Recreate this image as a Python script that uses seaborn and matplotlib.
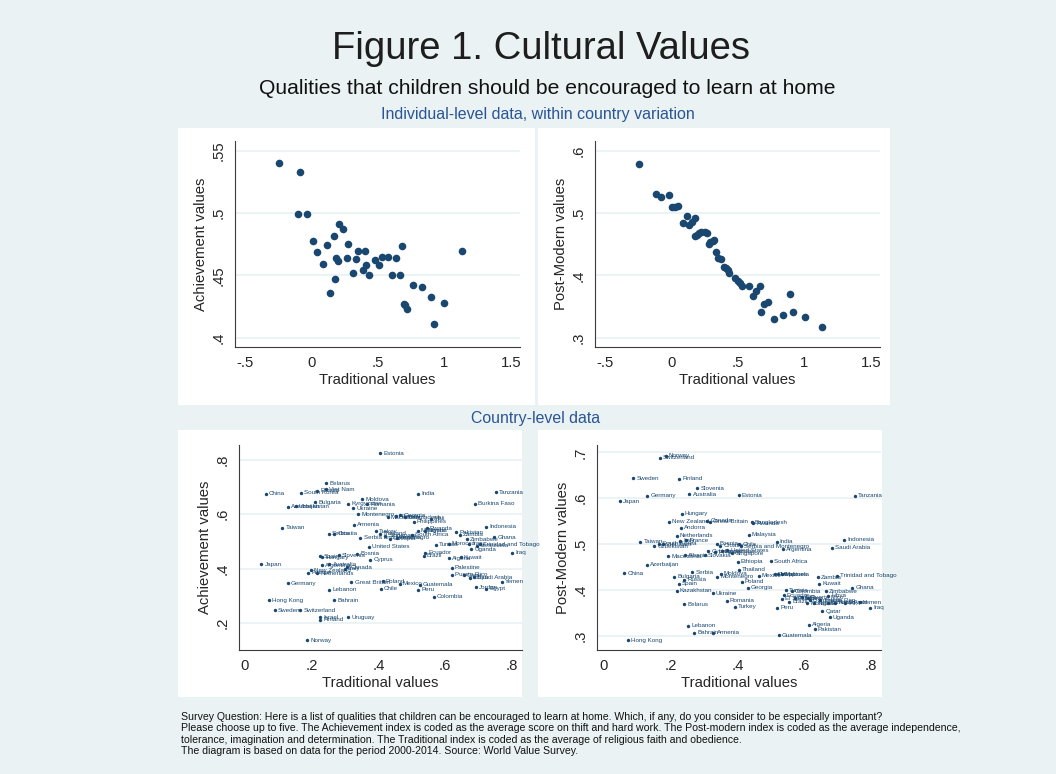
import pandas as pd
import seaborn as sns
import matplotlib.pyplot as plt
from matplotlib.patches import Rectangle

# ---- individual-level data (binned, within country variation) ----
tl_x = [-0.243, -0.083, -0.103, -0.033, 0.010, 0.045, 0.085, 0.115, 0.138, 0.168,
        0.178, 0.185, 0.198, 0.205, 0.238, 0.265, 0.278, 0.313, 0.335, 0.353,
        0.390, 0.403, 0.413, 0.435, 0.475, 0.508, 0.533, 0.575, 0.610, 0.638,
        0.668, 0.680, 0.695, 0.708, 0.723, 0.763, 0.835, 0.898, 0.923, 1.000, 1.133]
tl_y = [0.5398, 0.5331, 0.4992, 0.4992, 0.4773, 0.4687, 0.4591, 0.4743, 0.4361, 0.4816,
        0.4471, 0.4636, 0.4615, 0.4909, 0.4874, 0.4642, 0.4749, 0.4521, 0.4631, 0.4698,
        0.4540, 0.4698, 0.4583, 0.4505, 0.4623, 0.4580, 0.4644, 0.4644, 0.4505, 0.4642,
        0.4500, 0.4733, 0.4273, 0.4259, 0.4233, 0.4422, 0.4406, 0.4324, 0.4112, 0.4275, 0.4698]

tr_x = [-0.243, -0.115, -0.078, -0.018, 0.008, 0.030, 0.050, 0.085, 0.115, 0.135,
        0.158, 0.180, 0.175, 0.193, 0.208, 0.226, 0.251, 0.271, 0.281, 0.291,
        0.311, 0.321, 0.333, 0.353, 0.373, 0.398, 0.414, 0.426, 0.434, 0.479,
        0.499, 0.516, 0.534, 0.581, 0.617, 0.634, 0.669, 0.677, 0.697, 0.727,
        0.772, 0.840, 0.892, 0.917, 1.005, 1.133]
tr_y = [0.5786, 0.5305, 0.5262, 0.5289, 0.5102, 0.5102, 0.5112, 0.4845, 0.4952, 0.4807,
        0.4861, 0.4914, 0.4626, 0.4647, 0.4674, 0.4701, 0.4690, 0.4684, 0.4497, 0.4529,
        0.4551, 0.4567, 0.4369, 0.4273, 0.4257, 0.4139, 0.4112, 0.4086, 0.4043, 0.3952,
        0.3909, 0.3872, 0.3834, 0.3829, 0.3668, 0.3749, 0.3834, 0.3412, 0.3540, 0.3567,
        0.3300, 0.3358, 0.3695, 0.3412, 0.3326, 0.3166]

# ---- country-level data: achievement ----
bl_names = ["Estonia", "Belarus", "China", "South Korea", "Viet Nam", "Russia", "Bulgaria",
            "Azerbaijan", "Uzbekistan", "Kyrgyzstan", "Moldova", "Romania", "Ukraine",
            "Montenegro", "Armenia", "Taiwan", "Serbia", "Croatia", "Serbia and Montenegro",
            "United States", "Cyprus", "Slovenia", "Bosnia", "Spain", "Hungary", "Japan",
            "Australia", "Argentina", "Canada", "Italy", "New Zealand", "Netherlands", "France",
            "Germany", "Great Britain", "Poland", "Chile", "Mexico", "Guatemala", "Peru",
            "Colombia", "Lebanon", "Bahrain", "Hong Kong", "Sweden", "Switzerland", "Israel",
            "Finland", "Uruguay", "Norway", "Palestine", "Puerto Rico", "Qatar", "Libya",
            "Saudi Arabia", "Jordan", "Yemen", "Egypt", "Iraq", "Kuwait", "Algeria", "Brazil",
            "Ecuador", "India", "Tanzania", "Burkina Faso", "Mali", "Macedonia", "Albania",
            "Georgia", "Bangladesh", "Philippines", "Indonesia", "Rwanda", "Nigeria",
            "Malaysia", "Pakistan", "Zambia", "South Africa", "Zimbabwe", "Ghana", "Turkey",
            "Thailand", "Singapore", "Ethiopia", "Andorra", "Tunisia", "Morocco",
            "Trinidad and Tobago", "Iran", "Venezuela", "Uganda"]
bl_x = [0.405, 0.243, 0.062, 0.167, 0.243, 0.217, 0.210, 0.128, 0.152, 0.310, 0.351, 0.367,
        0.325, 0.340, 0.327, 0.112, 0.251, 0.268, 0.346, 0.371, 0.375, 0.281, 0.337, 0.226,
        0.231, 0.049, 0.253, 0.231, 0.307, 0.300, 0.198, 0.217, 0.190, 0.128, 0.319, 0.412,
        0.406, 0.463, 0.523, 0.519, 0.565, 0.253, 0.268, 0.073, 0.089, 0.166, 0.226, 0.226,
        0.309, 0.187, 0.620, 0.620, 0.655, 0.675, 0.685, 0.692, 0.771, 0.722, 0.800, 0.646,
        0.612, 0.535, 0.540, 0.519, 0.752, 0.690, 0.556, 0.428, 0.451, 0.465, 0.480, 0.505,
        0.722, 0.545, 0.538, 0.518, 0.633, 0.643, 0.500, 0.665, 0.747, 0.392, 0.405, 0.420,
        0.435, 0.455, 0.572, 0.610, 0.705, 0.672, 0.695, 0.678]
bl_y = [0.825, 0.714, 0.676, 0.680, 0.693, 0.686, 0.644, 0.628, 0.630, 0.638, 0.656, 0.637,
        0.623, 0.601, 0.561, 0.550, 0.528, 0.529, 0.513, 0.481, 0.433, 0.450, 0.454, 0.446,
        0.442, 0.417, 0.417, 0.413, 0.405, 0.399, 0.395, 0.383, 0.385, 0.347, 0.350, 0.354,
        0.326, 0.345, 0.341, 0.322, 0.296, 0.322, 0.284, 0.284, 0.247, 0.247, 0.222, 0.212,
        0.222, 0.136, 0.404, 0.378, 0.376, 0.366, 0.368, 0.331, 0.351, 0.326, 0.459, 0.442,
        0.438, 0.448, 0.459, 0.676, 0.681, 0.638, 0.583, 0.589, 0.593, 0.596, 0.589, 0.573,
        0.555, 0.549, 0.540, 0.540, 0.534, 0.524, 0.524, 0.509, 0.516, 0.538, 0.528, 0.522,
        0.510, 0.513, 0.488, 0.491, 0.490, 0.491, 0.485, 0.472]

# ---- country-level data: post-modern ----
br_names = ["Norway", "Switzerland", "Sweden", "Finland", "Slovenia", "Australia", "Germany",
            "Estonia", "Japan", "Hungary", "New Zealand", "Canada", "Great Britain", "Andorra",
            "Netherlands", "France", "Italy", "Taiwan", "South Korea", "Uzbekistan", "Viet Nam",
            "Bangladesh", "Rwanda", "Malaysia", "India", "Argentina", "Indonesia",
            "Saudi Arabia", "Tanzania", "Bosnia", "Croatia", "Chile", "Serbia and Montenegro",
            "United States", "Singapore", "Kyrgyzstan", "Slovakia", "Cyprus", "Uruguay",
            "Albania", "Macedonia", "Ethiopia", "South Africa", "Azerbaijan", "China", "Serbia",
            "Bulgaria", "Russia", "Spain", "Kazakhstan", "Ukraine", "Romania", "Turkey",
            "Belarus", "Lebanon", "Bahrain", "Armenia", "Hong Kong", "Moldova", "Montenegro",
            "Thailand", "Poland", "Georgia", "Mexico", "Philippines", "Venezuela", "Mali",
            "Zambia", "Trinidad and Tobago", "Kuwait", "Ghana", "Zimbabwe", "Colombia",
            "Tunisia", "Ecuador", "Brazil", "El Salvador", "Palestine", "Iran", "Puerto Rico",
            "Dominican Rep.", "Morocco", "Nigeria", "Jordan", "Libya", "Burkina Faso",
            "Kenya", "Egypt", "Yemen", "Iraq", "Qatar", "Uganda", "Algeria", "Pakistan",
            "Guatemala", "Peru"]
br_x = [0.185, 0.168, 0.088, 0.226, 0.280, 0.256, 0.130, 0.404, 0.048, 0.233, 0.196, 0.310,
        0.318, 0.231, 0.218, 0.246, 0.228, 0.109, 0.165, 0.150, 0.178, 0.443, 0.447, 0.434,
        0.517, 0.537, 0.720, 0.683, 0.752, 0.338, 0.348, 0.405, 0.410, 0.370, 0.384, 0.353,
        0.303, 0.313, 0.333, 0.243, 0.193, 0.401, 0.499, 0.128, 0.061, 0.265, 0.210, 0.241,
        0.225, 0.218, 0.326, 0.368, 0.393, 0.240, 0.253, 0.270, 0.328, 0.073, 0.350, 0.340,
        0.405, 0.413, 0.430, 0.464, 0.512, 0.522, 0.532, 0.640, 0.697, 0.645, 0.744, 0.665,
        0.562, 0.544, 0.539, 0.555, 0.532, 0.572, 0.592, 0.612, 0.617, 0.609, 0.630, 0.647,
        0.672, 0.672, 0.692, 0.722, 0.767, 0.797, 0.654, 0.677, 0.613, 0.632, 0.523, 0.519]
br_y = [0.693, 0.688, 0.644, 0.642, 0.622, 0.609, 0.605, 0.607, 0.593, 0.566, 0.549, 0.551,
        0.549, 0.536, 0.518, 0.508, 0.507, 0.505, 0.501, 0.495, 0.500, 0.548, 0.546, 0.521,
        0.505, 0.489, 0.510, 0.492, 0.605, 0.501, 0.497, 0.500, 0.496, 0.487, 0.480, 0.485,
        0.476, 0.485, 0.484, 0.476, 0.474, 0.462, 0.463, 0.455, 0.437, 0.439, 0.429, 0.423,
        0.414, 0.399, 0.393, 0.377, 0.364, 0.369, 0.322, 0.307, 0.307, 0.291, 0.436, 0.429,
        0.444, 0.418, 0.405, 0.431, 0.435, 0.435, 0.435, 0.428, 0.431, 0.414, 0.405, 0.397,
        0.397, 0.400, 0.389, 0.375, 0.381, 0.382, 0.386, 0.383, 0.378, 0.371, 0.371, 0.378,
        0.388, 0.372, 0.372, 0.372, 0.373, 0.362, 0.354, 0.341, 0.324, 0.315, 0.302, 0.361]

trad_ticks = [-0.5, 0, 0.5, 1, 1.5]
trad_labels = ["-.5", "0", ".5", "1", "1.5"]
ach_ticks = [0.4, 0.45, 0.5, 0.55]
ach_labels = [".4", ".45", ".5", ".55"]
pm_ticks = [0.3, 0.4, 0.5, 0.6]
pm_labels = [".3", ".4", ".5", ".6"]
c_ticks = [0, 0.2, 0.4, 0.6, 0.8]
c_labels = ["0", ".2", ".4", ".6", ".8"]
cach_ticks = [0.2, 0.4, 0.6, 0.8]
cach_labels = [".2", ".4", ".6", ".8"]
cpm_ticks = [0.3, 0.4, 0.5, 0.6, 0.7]
cpm_labels = [".3", ".4", ".5", ".6", ".7"]

footer = [
    "Survey Question: Here is a list of qualities that children can be encouraged to learn at home. Which, if any, do you consider to be especially important?",
    "Please choose up to five. The Achievement index is coded as the average score on thift and hard work. The Post-modern index is coded as the average independence,",
    "tolerance, imagination and determination. The Traditional index is coded as the average of religious faith and obedience.",
    "The diagram is based on data for the period 2000-2014. Source: World Value Survey.",
]

NAVY = "#1a476f"
BG = "#eaf2f3"
W, H = 1056, 774

sns.set_style("white")
plt.rcParams["font.family"] = ["Liberation Sans", "DejaVu Sans"]

fig = plt.figure(figsize=(W / 100, H / 100), dpi=100, facecolor=BG)


def rect(l, t, r, b):
    return [l / W, 1 - b / H, (r - l) / W, (b - t) / H]


# white graph regions behind each panel
for l, t, r, b in [(178, 128, 535, 405), (538, 128, 890, 405),
                   (178, 430, 522, 697), (538, 430, 882, 697)]:
    x0, y0, w, h = rect(l, t, r, b)
    fig.patches.append(Rectangle((x0, y0), w, h, transform=fig.transFigure,
                                 facecolor="white", edgecolor="none", zorder=-1))

FS = 10.7


def style(ax, xt, xl, yt, yl, xlim, ylim, ylabel):
    ax.set_facecolor("white")
    ax.set_xlim(*xlim)
    ax.set_ylim(*ylim)
    ax.set_xticks(xt)
    ax.set_xticklabels(xl, fontsize=FS)
    ax.set_yticks(yt)
    ax.set_yticklabels(yl, fontsize=FS, rotation=90, va="center")
    for y in yt:
        ax.axhline(y, color=BG, lw=1.3, zorder=0)
    for s in ["top", "right"]:
        ax.spines[s].set_visible(False)
    for s in ["left", "bottom"]:
        ax.spines[s].set_color("#3c3c3c")
        ax.spines[s].set_linewidth(0.8)
    ax.tick_params(direction="out", length=4, width=0.8, color="#3c3c3c", pad=2.5)
    ax.set_xlabel("Traditional values", fontsize=FS, labelpad=2)
    ax.set_ylabel(ylabel, fontsize=FS, labelpad=3)


# top row
ax1 = fig.add_axes(rect(235, 141, 520, 347))
sns.scatterplot(data=pd.DataFrame({"x": tl_x, "y": tl_y}), x="x", y="y", ax=ax1,
                color=NAVY, s=30, linewidth=0, zorder=3)
style(ax1, trad_ticks, trad_labels, ach_ticks, ach_labels,
      (-0.575, 1.57), (0.3925, 0.5578), "Achievement values")

ax2 = fig.add_axes(rect(595, 141, 880, 347))
sns.scatterplot(data=pd.DataFrame({"x": tr_x, "y": tr_y}), x="x", y="y", ax=ax2,
                color=NAVY, s=30, linewidth=0, zorder=3)
style(ax2, trad_ticks, trad_labels, pm_ticks, pm_labels,
      (-0.575, 1.57), (0.2851, 0.6156), "Post-Modern values")

# bottom row
bl = pd.DataFrame({"country": bl_names, "x": bl_x, "y": bl_y})
br = pd.DataFrame({"country": br_names, "x": br_x, "y": br_y})

ax3 = fig.add_axes(rect(239, 445, 522, 650))
sns.scatterplot(data=bl, x="x", y="y", ax=ax3, color=NAVY, s=6, linewidth=0, zorder=3)
style(ax3, c_ticks, c_labels, cach_ticks, cach_labels,
      (-0.018, 0.830), (0.1007, 0.855), "Achievement values")

ax4 = fig.add_axes(rect(597, 445, 881, 650))
sns.scatterplot(data=br, x="x", y="y", ax=ax4, color=NAVY, s=6, linewidth=0, zorder=3)
style(ax4, c_ticks, c_labels, cpm_ticks, cpm_labels,
      (-0.021, 0.830), (0.2695, 0.716), "Post-Modern values")

for ax, df in [(ax3, bl), (ax4, br)]:
    for _, r in df.iterrows():
        ax.annotate(r["country"], (r["x"], r["y"]), xytext=(2.2, 0),
                    textcoords="offset points", fontsize=4.5, color=NAVY,
                    ha="left", va="center", zorder=4, annotation_clip=False)

# titles
fig.text(541 / W, 1 - 49 / H, "Figure 1. Cultural Values", fontsize=27.5,
         ha="center", va="center", color="#1e1e1e")
fig.text(547 / W, 1 - 89 / H, "Qualities that children should be encouraged to learn at home",
         fontsize=15.2, ha="center", va="center", color="#111111")
fig.text(538 / W, 1 - 115 / H, "Individual-level data, within country variation",
         fontsize=11.5, ha="center", va="center", color="#2a5596")
fig.text(536 / W, 1 - 418 / H, "Country-level data",
         fontsize=11.4, ha="center", va="center", color="#2a5596")

# footer note
for i, line in enumerate(footer):
    fig.text(181 / W, 1 - (716.5 + 11.6 * i) / H, line, fontsize=7.6,
             ha="left", va="center", color="#111111")

fig.savefig("out.png", dpi=100, facecolor=BG)
